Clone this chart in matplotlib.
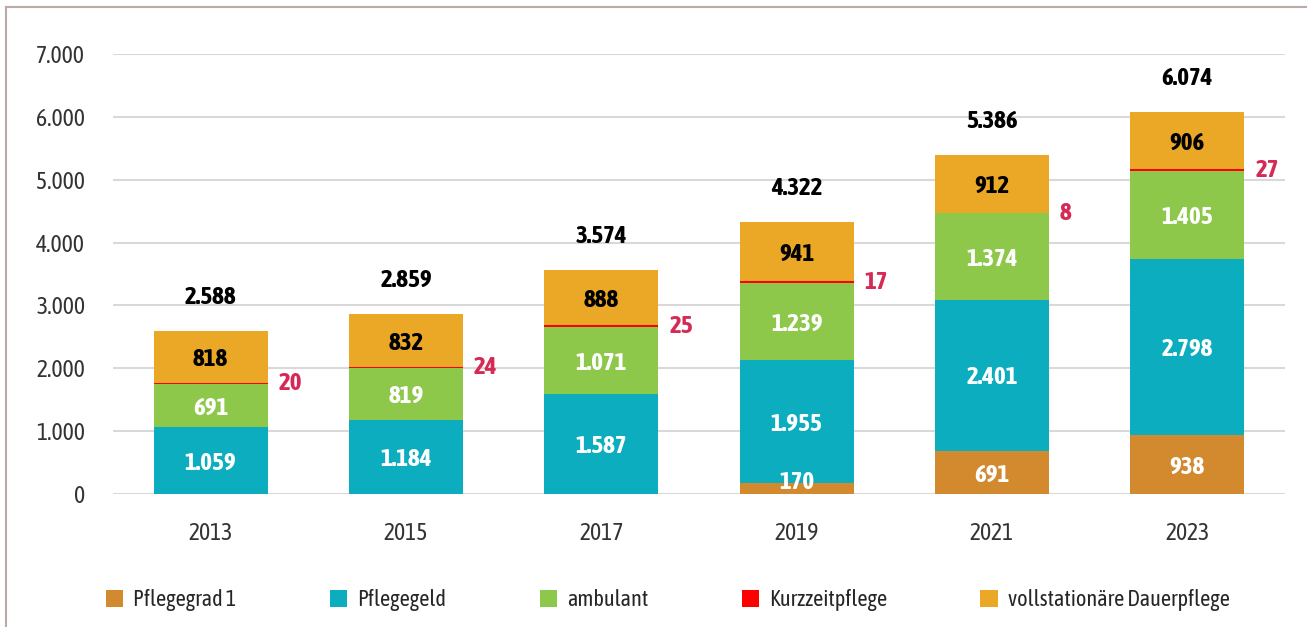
import numpy as np
import matplotlib
matplotlib.use("Agg")
import matplotlib.pyplot as plt
from matplotlib import font_manager as fm
from matplotlib.lines import Line2D
from matplotlib.patches import Patch

years = ["2013", "2015", "2017", "2019", "2021", "2023"]
pflegegrad1 = [0, 0, 0, 170, 691, 938]
pflegegeld = [1059, 1184, 1587, 1955, 2401, 2798]
ambulant = [691, 819, 1071, 1239, 1374, 1405]
kurzzeit = [20, 24, 25, 17, 8, 27]
vollstationaer = [818, 832, 888, 941, 912, 906]
totals = [2588, 2859, 3574, 4322, 5386, 6074]

series_names = ["Pflegegrad 1", "Pflegegeld", "ambulant", "Kurzzeitpflege",
                "vollstationäre Dauerpflege"]
colors = ["#D3892D", "#0BADBF", "#8DC84B", "#FF0000", "#EAA826"]
label_colors = ["white", "white", "white", None, "black"]


def as_weight(w):
    return w if isinstance(w, int) else fm.weight_dict.get(w, 400)


# collect condensed / narrow fonts and their weights
cond = {}
for f in fm.fontManager.ttflist:
    st = f.stretch
    is_cond = ("condensed" in st) if isinstance(st, str) else st < 500
    if is_cond or "Narrow" in f.name or "Condensed" in f.name:
        key = (f.name, "condensed" if is_cond else "normal")
        cond.setdefault(key, set()).add(as_weight(f.weight))

# prefer a family with a bold cut
reg_font, bold_font = None, None
for key, ws in sorted(cond.items(), key=lambda kv: -max(kv[1])):
    if min(ws) <= 450 and reg_font is None:
        reg_font = key
    if max(ws) >= 600 and bold_font is None:
        bold_font = key

if reg_font is None:
    reg_font = ("Open Sans", "normal")
if bold_font is None:
    bold_font = reg_font

plt.rcParams['font.family'] = [reg_font[0], 'DejaVu Sans']
plt.rcParams['font.stretch'] = reg_font[1]
bold_kw = dict(family=[bold_font[0], 'DejaVu Sans'], stretch=bold_font[1],
               fontweight="bold")
fs = 17


def fmt(v):
    # German thousands separator
    return f"{v:,}".replace(",", ".")


fig = plt.figure(figsize=(13.07, 6.27), dpi=100)
ax = fig.add_axes([113 / 1307, 1 - 494 / 627, 1172 / 1307, 440 / 627])

x = np.arange(len(years))
width = 0.585
bottom = np.zeros(len(years))
series = [pflegegrad1, pflegegeld, ambulant, kurzzeit, vollstationaer]

for i, (vals, col) in enumerate(zip(series, colors)):
    vals = np.array(vals, dtype=float)
    ax.bar(x, vals, width, bottom=bottom, color=col, zorder=3, linewidth=0)
    for j, v in enumerate(vals):
        if v <= 0:
            continue
        if i == 3:
            # small values next to the bar
            ax.text(x[j] + width / 2 + 0.055, bottom[j] + v / 2, fmt(int(v)),
                    ha="left", va="center", color="#D52A55", fontsize=fs + 1,
                    zorder=5, **bold_kw)
        else:
            yc = max(bottom[j] + v / 2, 230) - 45
            ax.text(x[j], yc, fmt(int(v)), ha="center", va="center",
                    color=label_colors[i], fontsize=fs + 1, zorder=5, **bold_kw)
    bottom += vals

for j, t in enumerate(totals):
    ax.text(x[j], bottom[j] + 350, fmt(t), ha="center", va="bottom",
            color="black", fontsize=fs + 1, zorder=5, **bold_kw)

ax.set_xlim(-0.5, 5.5)
ax.set_ylim(0, 7000)
ax.set_yticks(np.arange(0, 7001, 1000))
ax.set_yticklabels([fmt(v) for v in range(0, 7001, 1000)])
ax.set_xticks(x)
ax.set_xticklabels(years)
ax.tick_params(axis="both", length=0, labelsize=fs, colors="#333333")
ax.tick_params(axis="y", pad=20)
ax.tick_params(axis="x", pad=20)
ax.grid(axis="y", color="#D9D9D9", linewidth=1.5, zorder=0)
ax.set_axisbelow(True)
for s in ax.spines.values():
    s.set_visible(False)

handles = [Patch(facecolor=c, edgecolor="none") for c in colors]
fig.legend(handles, series_names, loc="center left",
           bbox_to_anchor=(86 / 1307, 1 - 600 / 627), ncol=5, frameon=False,
           fontsize=16, handlelength=0.78, handleheight=0.78, handletextpad=0.45,
           columnspacing=4.2, labelcolor="#262626")

# outer frame (only left and top edges visible)
fig.add_artist(Line2D([6 / 1307, 6 / 1307], [0, 1 - 7 / 627], color="#BBAAA6",
                      linewidth=1.5, transform=fig.transFigure))
fig.add_artist(Line2D([6 / 1307, 1], [1 - 7 / 627, 1 - 7 / 627], color="#BBAAA6",
                      linewidth=1.5, transform=fig.transFigure))

plt.savefig("out.png", dpi=100)
plt.close()
